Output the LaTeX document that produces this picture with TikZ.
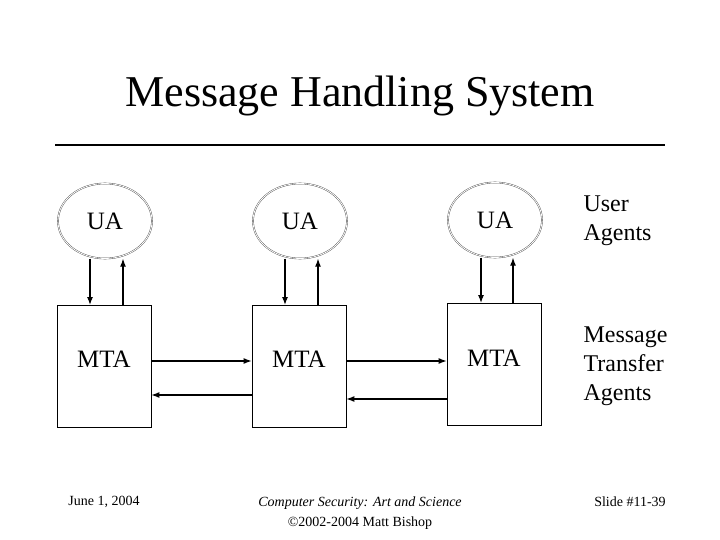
\documentclass[tikz,border=0pt]{standalone}
\usepackage{fontspec}
\setmainfont{Liberation Serif}
\usetikzlibrary{shapes.geometric,arrows.meta}
\begin{document}
\begin{tikzpicture}[x=1pt,y=-1pt,
 ua/.style={ellipse,draw=gray!60!black,double=white,double distance=0.8pt,minimum width=94pt,minimum height=75pt,inner sep=0pt},
 mta/.style={rectangle,draw,line width=0.8pt,minimum width=94pt,minimum height=122pt,inner sep=0pt},
 big/.style={font=\fontsize{25}{27}\selectfont},
 arr/.style={-{Latex[length=8pt,width=6pt]},line width=1.1pt},
 lbl/.style={font=\fontsize{24}{29}\selectfont,align=left,anchor=west}]
\useasboundingbox (0,0) rectangle (720,540);
\node[font=\fontsize{44}{48}\selectfont] (title) at (360,96) {Message Handling System};
\draw[line width=2.5pt] (55,145) -- (665,145);
\node[ua] (u1) at (105,221) {};
\node[ua] (u2) at (300,221) {};
\node[ua] (u3) at (495,220) {};
\node[big] at (105,221) {UA};
\node[big] at (300,221) {UA};
\node[big] at (495,220) {UA};
\node[mta] (m1) at (104,366) {};
\node[mta] (m2) at (299,366) {};
\node[mta] (m3) at (494,364) {};
\node[big] (t1) at (104,359) {MTA};
\node[big] (t2) at (299,359) {MTA};
\node[big] (t3) at (494,358) {MTA};
\draw[arr] (u1.south -| 90,0) -- (90,305);
\draw[arr] (123,305) -- (u1.south -| 123,0);
\draw[arr] (u2.south -| 285,0) -- (285,305);
\draw[arr] (318,305) -- (u2.south -| 318,0);
\draw[arr] (u3.south -| 481,0) -- (481,303);
\draw[arr] (513,303) -- (u3.south -| 513,0);
\draw[arr] (m1.east |- 0,361) -- (m2.west |- 0,361);
\draw[arr] (m2.west |- 0,395) -- (m1.east |- 0,395);
\draw[arr] (m2.east |- 0,361) -- (m3.west |- 0,361);
\draw[arr] (m3.west |- 0,399) -- (m2.east |- 0,399);
\node[lbl] (l1) at (580,221) {User\\Agents};
\node[lbl] (l2) at (580,366) {Message\\Transfer\\Agents};
\node[font=\fontsize{14}{16}\selectfont] (f1) at (104,502) {June 1, 2004};
\node[font=\fontsize{14}{20}\selectfont,align=center] (f2) at (360,513) {\itshape Computer Security: Art and Science\\©2002-2004 Matt Bishop};
\node[font=\fontsize{14}{16}\selectfont] (f3) at (630,502) {Slide \#11-39};
\end{tikzpicture}
\end{document}
